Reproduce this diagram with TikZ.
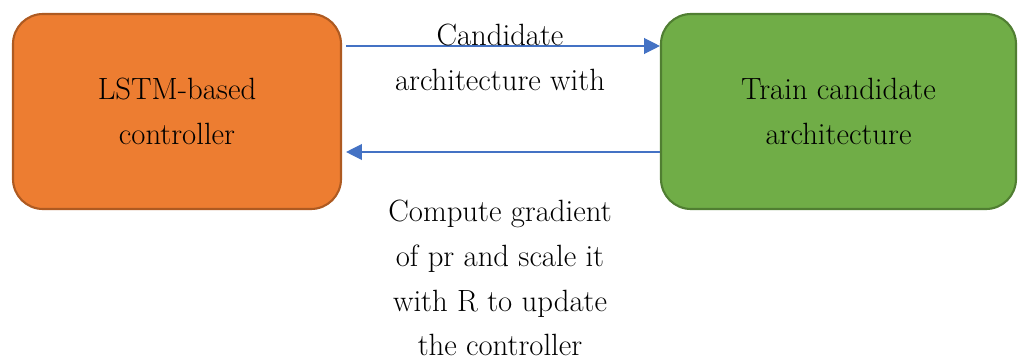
\documentclass[tikz,border=0pt]{standalone}
\usepackage{xcolor}
\usepackage{tikz}
\usetikzlibrary{calc, positioning, arrows.meta}
\definecolor{BoxOrange}{HTML}{ED7D31}
\definecolor{EdgeOrange}{HTML}{AE5A21}
\definecolor{BoxGreen}{HTML}{70AD47}
\definecolor{EdgeGreen}{HTML}{507E32}
\definecolor{FlowBlue}{HTML}{4472C4}

\begin{document}
\begin{tikzpicture}[x=0.02cm, y=-0.02cm,
      box/.style={rounded corners=30*0.02cm, line width=1.2pt, align=center,
                  minimum height=195*0.02cm, font=\fontsize{17.5}{25.5}\selectfont},
      lbl/.style={align=center, font=\fontsize{17.5}{25.5}\selectfont},
      flow/.style={FlowBlue, line width=0.7pt, -{Triangle[length=9pt, width=9pt]}}]
      \useasboundingbox (0,0) rectangle (1018,358);
      % Boxes
      \node[box, fill=BoxOrange, draw=EdgeOrange, minimum width=328*0.02cm] (ctrl)  at (177,111.5) {LSTM-based\\controller};
      \node[box, fill=BoxGreen,  draw=EdgeGreen,  minimum width=355*0.02cm] (train) at (838.5,111.5) {Train candidate\\architecture};
      % Arrows
      \draw[flow] ($(ctrl.east)+(4,-65.5)$) -- ($(train.west)+(0,-65.5)$);
      \draw[flow] ($(train.west)+(0,40.5)$) -- ($(ctrl.east)+(4,40.5)$);
      % Labels
      \node[lbl] (cand) at (500,57) {Candidate\\architecture with};
      \node[lbl] (grad) at (500,278) {Compute gradient\\of pr and scale it\\with R to update\\the controller};
\end{tikzpicture}
\end{document}
